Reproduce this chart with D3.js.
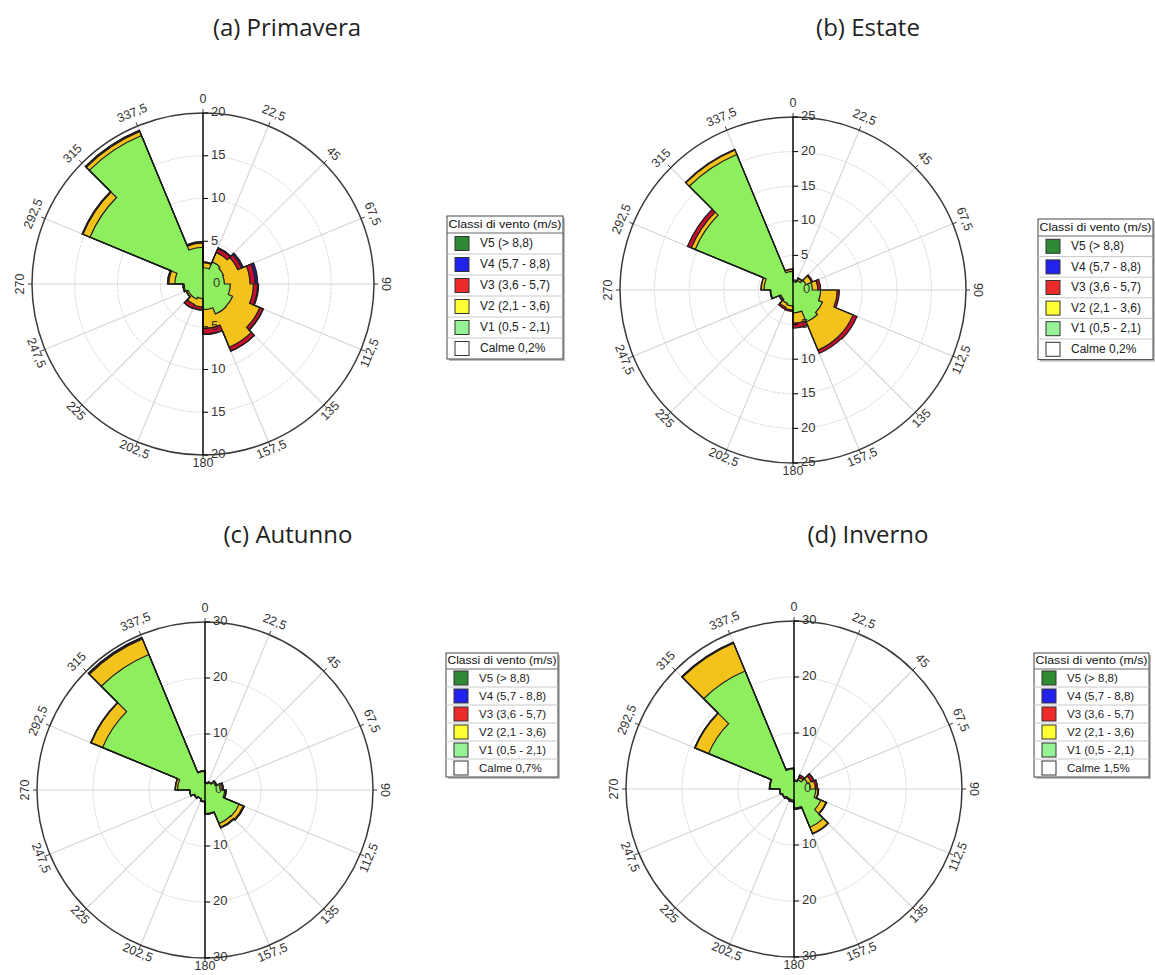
<!DOCTYPE html>
<html>
<head>
<meta charset="utf-8">
<script src="https://d3js.org/d3.v7.min.js"></script>
<style>
  body { margin: 0; background: #fff; }
  text { font-family: "Liberation Sans", Arial, sans-serif; }
  .title { font-family: "Open Sans", Lato, sans-serif; font-weight: 400; font-size: 24px; fill: #222; }
</style>
</head>
<body>
<div id="chartContainer"></div>
<script>
// sector start angles (degrees, clockwise from north) and their labels
var directions = [0, 22.5, 45, 67.5, 90, 112.5, 135, 157.5, 180, 202.5, 225, 247.5, 270, 292.5, 315, 337.5];
var directionLabels = ["0", "22,5", "45", "67,5", "90", "112,5", "135", "157,5", "180", "202,5", "225", "247,5", "270", "292,5", "315", "337,5"];

var classLabels = ["V5 (> 8,8)", "V4 (5,7 - 8,8)", "V3 (3,6 - 5,7)", "V2 (2,1 - 3,6)", "V1 (0,5 - 2,1)"];

// (a) Primavera - frequency (%) per speed class
var primaveraV1 = [1.9, 2.8, 2.6, 2.5, 3.2, 3.75, 3.8, 3.0, 1.7, 1.9, 1.9, 2.2, 3.3, 14.3, 18.8, 4.3];
var primaveraV2 = [0.6, 1.2, 1.8, 3.0, 2.7, 3.45, 4.2, 2.2, 1.0, 0.7, 0.2, 0.15, 0.7, 0.9, 0.5, 0.5];
var primaveraV3 = [0.1, 0.5, 0.5, 0.6, 0.5, 0.4, 0.5, 0.7, 0.35, 0.5, 0.05, 0, 0.15, 0.1, 0.15, 0.15];
var primaveraV4 = [0, 0.1, 0.2, 0.3, 0.1, 0.05, 0, 0, 0, 0, 0, 0, 0, 0, 0, 0];
var primaveraV5 = [0, 0, 0, 0, 0, 0, 0, 0, 0, 0, 0, 0, 0, 0, 0, 0];

// (b) Estate
var estateV1 = [1.2, 1.5, 2.0, 2.8, 4.0, 4.6, 5.0, 3.3, 2.3, 2.1, 1.9, 3.2, 4.2, 15.3, 21.2, 2.7];
var estateV2 = [0.2, 0.3, 0.9, 0.8, 2.4, 4.8, 4.4, 1.5, 0.6, 0.6, 0.2, 0.1, 0.4, 0.6, 0.7, 0.3];
var estateV3 = [0.05, 0.1, 0.2, 0.4, 0.3, 0.6, 0.5, 0.7, 0.2, 0.3, 0.1, 0, 0.05, 0.6, 0.1, 0.05];
var estateV4 = [0, 0, 0, 0, 0, 0, 0, 0, 0, 0, 0, 0, 0, 0, 0, 0];
var estateV5 = [0, 0, 0, 0, 0, 0, 0, 0, 0, 0, 0, 0, 0, 0, 0, 0];

// (c) Autunno
var autunnoV1 = [1.2, 1.5, 2.0, 2.7, 3.5, 6.6, 6.5, 4.2, 2.0, 1.7, 2.0, 2.7, 4.9, 19.8, 26.2, 3.3];
var autunnoV2 = [0.1, 0.1, 0.2, 0.4, 0.2, 0.8, 0.7, 0.1, 0.1, 0.05, 0.1, 0.05, 0.4, 2.2, 3.0, 0.1];
var autunnoV3 = [0, 0, 0.1, 0.2, 0.1, 0.2, 0.15, 0.05, 0, 0, 0, 0, 0.05, 0.1, 0.2, 0.05];
var autunnoV4 = [0, 0, 0, 0, 0, 0, 0, 0, 0, 0, 0, 0, 0, 0, 0.1, 0];
var autunnoV5 = [0, 0, 0, 0, 0, 0, 0, 0, 0, 0, 0, 0, 0, 0, 0, 0];

// (d) Inverno
var invernoV1 = [1.4, 1.8, 2.6, 2.9, 3.9, 5.2, 7.4, 3.4, 2.0, 1.9, 2.2, 2.5, 4.3, 16.5, 22.8, 3.6];
var invernoV2 = [0.2, 0.5, 0.7, 0.9, 0.4, 1.0, 1.2, 0.2, 0.2, 0.15, 0.1, 0.1, 0.1, 2.6, 5.4, 0.15];
var invernoV3 = [0, 0.4, 0.5, 0.4, 0.1, 0.1, 0.1, 0, 0.1, 0.05, 0, 0, 0, 0.1, 0.15, 0];
var invernoV4 = [0, 0, 0.1, 0, 0, 0, 0, 0, 0, 0, 0, 0, 0, 0, 0, 0];
var invernoV5 = [0, 0, 0, 0, 0, 0, 0, 0, 0, 0, 0, 0, 0, 0, 0, 0];

var calmeLabels = ["Calme 0,2%", "Calme 0,2%", "Calme 0,7%", "Calme 1,5%"];

// colours of the petals (V1..V5) and of the legend boxes (V5..V1)
var petalColors = ["#8eef5e", "#f3c31c", "#c8102e", "#24238f", "#1f6b2b"];
var legendColors = ["#2e8b34", "#2222ee", "#ee2b2b", "#ffff33", "#96f296"];

var panels = [
  { title: "(a) Primavera", tx: 287, ty: 36, cx: 203, cy: 284, R: 171, max: 20, step: 5,
    series: [primaveraV1, primaveraV2, primaveraV3, primaveraV4, primaveraV5],
    legend: { x: 447, y: 216, w: 116, head: 17, row: 21, fs: 12 }, calme: calmeLabels[0] },
  { title: "(b) Estate", tx: 868, ty: 36, cx: 793, cy: 290, R: 173, max: 25, step: 5,
    series: [estateV1, estateV2, estateV3, estateV4, estateV5],
    legend: { x: 1038, y: 219, w: 115, head: 17, row: 20.6, fs: 12 }, calme: calmeLabels[1] },
  { title: "(c) Autunno", tx: 288, ty: 543, cx: 205, cy: 790, R: 168, max: 30, step: 10,
    series: [autunnoV1, autunnoV2, autunnoV3, autunnoV4, autunnoV5],
    legend: { x: 446, y: 653, w: 112, head: 16, row: 18, fs: 11.5 }, calme: calmeLabels[2] },
  { title: "(d) Inverno", tx: 868, ty: 543, cx: 794, cy: 789, R: 168, max: 30, step: 10,
    series: [invernoV1, invernoV2, invernoV3, invernoV4, invernoV5],
    legend: { x: 1034, y: 653, w: 115, head: 16, row: 18, fs: 11.5 }, calme: calmeLabels[3] }
];

var svg = d3.select("#chartContainer").append("svg")
  .attr("width", 1155).attr("height", 975);

var rad = Math.PI / 180;
var sectorWidth = 22.5;

panels.forEach(function (p) {
  svg.append("text").attr("class", "title")
    .attr("x", p.tx).attr("y", p.ty)
    .attr("text-anchor", "middle")
    .text(p.title);

  var g = svg.append("g").attr("transform", "translate(" + p.cx + "," + p.cy + ")");
  var r = d3.scaleLinear().domain([0, p.max]).range([0, p.R]);
  var ticks = d3.range(p.step, p.max, p.step);

  // grid circles
  g.selectAll(".grid").data(ticks).enter().append("circle")
    .attr("r", function (d) { return r(d); })
    .attr("fill", "none").attr("stroke", "#dcdcdc").attr("stroke-width", 1)
    .attr("stroke-dasharray", "3,1");

  // radial lines
  g.selectAll(".spoke").data(directions).enter().append("line")
    .attr("x1", 0).attr("y1", 0)
    .attr("x2", function (d) { return r(p.max) * Math.sin(d * rad); })
    .attr("y2", function (d) { return -r(p.max) * Math.cos(d * rad); })
    .attr("stroke", "#d6d6d6").attr("stroke-width", 1.2);

  // outer circle and its ticks
  g.append("circle").attr("r", r(p.max))
    .attr("fill", "none").attr("stroke", "#3a3a3a").attr("stroke-width", 1.5);
  g.selectAll(".otick").data(directions).enter().append("line")
    .attr("x1", function (d) { return r(p.max) * Math.sin(d * rad); })
    .attr("y1", function (d) { return -r(p.max) * Math.cos(d * rad); })
    .attr("x2", function (d) { return (r(p.max) + 4) * Math.sin(d * rad); })
    .attr("y2", function (d) { return -(r(p.max) + 4) * Math.cos(d * rad); })
    .attr("stroke", "#3a3a3a").attr("stroke-width", 1);

  // direction labels, rotated along the circle
  g.selectAll(".dlab").data(directions).enter().append("text")
    .attr("transform", function (d) {
      var lr = r(p.max) + 11 + 2.5 * Math.cos(d * rad);
      var x = lr * Math.sin(d * rad), y = -lr * Math.cos(d * rad);
      var rot = d <= 90 ? d : (d < 270 ? d - 180 : d - 360);
      return "translate(" + x + "," + y + ") rotate(" + rot + ")";
    })
    .attr("text-anchor", "middle").attr("dominant-baseline", "middle")
    .attr("font-size", 12.5).attr("fill", "#333")
    .text(function (d, i) { return directionLabels[i]; });

  // stacked petals: fills per band, then one outline per cumulative level
  var bands = [];
  var levels = p.series.map(function () { return []; });
  directions.forEach(function (dir, i) {
    var base = 0;
    p.series.forEach(function (s, k) {
      if (s[i] > 0) {
        bands.push({ dir: dir, k: k, inner: base, outer: base + s[i] });
      }
      base += s[i];
      levels[k].push(base);
    });
  });
  var arc = d3.arc()
    .innerRadius(function (d) { return r(d.inner); })
    .outerRadius(function (d) { return r(d.outer); })
    .startAngle(function (d) { return d.dir * rad; })
    .endAngle(function (d) { return (d.dir + sectorWidth) * rad; });
  g.selectAll(".band").data(bands).enter().append("path")
    .attr("d", arc)
    .attr("fill", function (d) { return petalColors[d.k]; })
    .attr("stroke", function (d) { return petalColors[d.k]; })
    .attr("stroke-width", 0.5);

  function envelope(cum) {
    var path = d3.path();
    directions.forEach(function (dir, i) {
      var a0 = (dir - 90) * rad, a1 = (dir + sectorWidth - 90) * rad;
      var rr = r(cum[i]);
      if (i === 0) path.moveTo(rr * Math.cos(a0), rr * Math.sin(a0));
      path.arc(0, 0, rr, a0, a1);
    });
    path.closePath();
    return path.toString();
  }
  var usedLevels = levels.filter(function (cum, k) {
    return d3.max(p.series[k]) > 0;
  });
  g.selectAll(".outline").data(usedLevels).enter().append("path")
    .attr("d", envelope)
    .attr("fill", "none")
    .attr("stroke", "#1d1d1d").attr("stroke-width", 1.2)
    .attr("stroke-linejoin", "miter");

  // vertical radial axis on top
  g.append("line").attr("x1", 0).attr("x2", 0)
    .attr("y1", -r(p.max)).attr("y2", r(p.max))
    .attr("stroke", "#000").attr("stroke-width", 1.4);
  var axisTicks = [];
  d3.range(p.step, p.max + 0.001, p.step).forEach(function (v) {
    axisTicks.push({ v: v, y: -r(v) });
    axisTicks.push({ v: v, y: r(v) });
  });
  g.selectAll(".atick").data(axisTicks).enter().append("line")
    .attr("x1", 0).attr("x2", 5)
    .attr("y1", function (d) { return d.y; }).attr("y2", function (d) { return d.y; })
    .attr("stroke", "#000").attr("stroke-width", 1);
  g.selectAll(".alab").data(axisTicks).enter().append("text")
    .attr("x", 8).attr("y", function (d) { return d.y; })
    .attr("dominant-baseline", "middle")
    .attr("font-size", 13).attr("fill", "#333")
    .text(function (d) { return d.v; });
  g.append("text").attr("x", 10).attr("y", 0)
    .attr("dominant-baseline", "middle")
    .attr("font-size", 13).attr("fill", "#333")
    .text("0");

  // legend
  var L = p.legend;
  var rows = classLabels.concat([p.calme]);
  var boxH = L.head + L.row * rows.length;
  var lg = svg.append("g").attr("transform", "translate(" + L.x + "," + L.y + ")");
  lg.append("rect").attr("x", 2).attr("y", 2).attr("width", L.w).attr("height", boxH)
    .attr("fill", "#bdbdbd");
  lg.append("rect").attr("width", L.w).attr("height", boxH)
    .attr("fill", "#fff").attr("stroke", "#444").attr("stroke-width", 1);
  lg.append("text").attr("x", 1.5).attr("y", L.head / 2 + 0.5)
    .attr("dominant-baseline", "middle")
    .attr("font-size", L.fs - 0.5).attr("fill", "#111")
    .attr("textLength", L.w - 3).attr("lengthAdjust", "spacingAndGlyphs")
    .text("Classi di vento (m/s)");
  rows.forEach(function (label, i) {
    var y0 = L.head + i * L.row;
    lg.append("line").attr("x1", 0).attr("x2", L.w)
      .attr("y1", y0).attr("y2", y0)
      .attr("stroke", i === 0 ? "#666" : "#c8c8c8").attr("stroke-width", 1);
    lg.append("rect").attr("x", 8).attr("y", y0 + L.row / 2 - 7)
      .attr("width", 14).attr("height", 14)
      .attr("fill", i < legendColors.length ? legendColors[i] : "#fff")
      .attr("stroke", "#333").attr("stroke-width", 1);
    lg.append("text").attr("x", 33).attr("y", y0 + L.row / 2 + 0.5)
      .attr("dominant-baseline", "middle")
      .attr("font-size", L.fs).attr("fill", "#222")
      .text(label);
  });
});
</script>
</body>
</html>
